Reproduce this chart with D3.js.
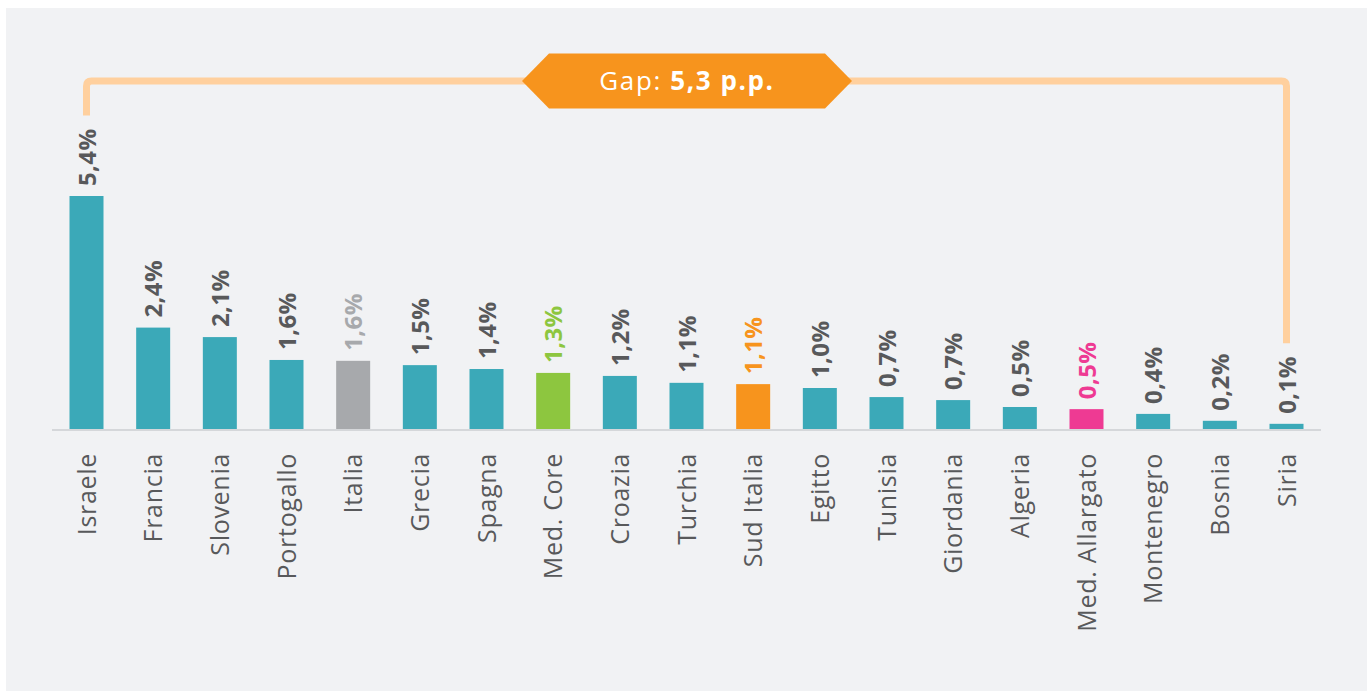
<!DOCTYPE html>
<html>
<head>
<meta charset="utf-8">
<script src="https://cdn.jsdelivr.net/npm/d3@7"></script>
<style>
  html, body { margin: 0; padding: 0; background: #ffffff; }
  svg { display: block; }
  text { font-family: "Open Sans", "Noto Sans", sans-serif; }
</style>
</head>
<body>
<svg id="chart" width="1371" height="691"></svg>
<script>
// ---- data ----
const categories = ["Israele","Francia","Slovenia","Portogallo","Italia","Grecia","Spagna","Med. Core","Croazia","Turchia","Sud Italia","Egitto","Tunisia","Giordania","Algeria","Med. Allargato","Montenegro","Bosnia","Siria"];
const values = [5.4, 2.35, 2.13, 1.6, 1.58, 1.48, 1.39, 1.3, 1.23, 1.07, 1.04, 0.95, 0.74, 0.67, 0.51, 0.46, 0.35, 0.19, 0.12];
const valueLabels = ["5,4%","2,4%","2,1%","1,6%","1,6%","1,5%","1,4%","1,3%","1,2%","1,1%","1,1%","1,0%","0,7%","0,7%","0,5%","0,5%","0,4%","0,2%","0,1%"];
const highlight = {"Italia": "italy", "Med. Core": "core", "Sud Italia": "south", "Med. Allargato": "wide"};
const gapLabel = "Gap: ";
const gapValue = "5,3 p.p.";

// ---- styles ----
const barColors = {def: "#3BA9B8", italy: "#A7A9AC", core: "#8DC63F", south: "#F7941D", wide: "#EE3A93"};
const labelColors = {def: "#58595B", italy: "#A7A9AC", core: "#8DC63F", south: "#F7941D", wide: "#EE3A93"};

const svg = d3.select("#chart");
svg.append("rect").attr("x", 6).attr("y", 8).attr("width", 1361).attr("height", 683).attr("fill", "#F1F2F4");

const baseline = 429;
const x = d3.scaleBand().domain(categories).range([52.5, 1320.5]).paddingInner(0.49).paddingOuter(0.255);
const y = d3.scaleLinear().domain([0, 5.4]).range([baseline, 196]);

const data = categories.map((c, i) => ({c, v: values[i], lab: valueLabels[i], k: highlight[c] || "def"}));

// axis line
svg.append("line").attr("x1", 52).attr("x2", 1321).attr("y1", 430).attr("y2", 430)
  .attr("stroke", "#D5D7DA").attr("stroke-width", 2);

// bars
svg.append("g").selectAll("rect").data(data).join("rect")
  .attr("x", d => x(d.c)).attr("width", x.bandwidth())
  .attr("y", d => y(d.v)).attr("height", d => baseline - y(d.v))
  .attr("fill", d => barColors[d.k]);

// value labels
const vl = svg.append("g").selectAll("text").data(data).join("text")
  .attr("transform", d => `translate(${x(d.c) + x.bandwidth()/2},${y(d.v) - 10}) rotate(-90)`)
  .attr("dy", 9)
  .attr("text-anchor", "start")
  .attr("font-size", 24).attr("font-weight", 700)
  .attr("letter-spacing", 0.4)
  .attr("fill", d => labelColors[d.k])
  .text(d => d.lab);

// category labels
svg.append("g").selectAll("text").data(data).join("text")
  .attr("transform", d => `translate(${x(d.c) + x.bandwidth()/2},453) rotate(-90)`)
  .attr("dy", 9)
  .attr("text-anchor", "end")
  .attr("font-size", 25)
  .attr("letter-spacing", 0.7)
  .attr("fill", "#58595B")
  .text(d => d.c);

// bracket
const nodes = vl.nodes();
const firstTop = y(values[0]) - 10 - nodes[0].getComputedTextLength() - 13;
const lastIdx = categories.length - 1;
const lastTop = y(values[lastIdx]) - 10 - nodes[lastIdx].getComputedTextLength() - 13;
const xl = x(categories[0]) + x.bandwidth()/2;
const xr = x(categories[lastIdx]) + x.bandwidth()/2;
const yb = 81, r = 5;
svg.append("path")
  .attr("d", `M${xl},${firstTop} L${xl},${yb + r} Q${xl},${yb} ${xl + r},${yb} L${xr - r},${yb} Q${xr},${yb} ${xr},${yb + r} L${xr},${lastTop}`)
  .attr("fill", "none").attr("stroke", "#FFD09E").attr("stroke-width", 7);

// gap banner
const cx = 687, hw = 165, hh = 27.5, notch = 27;
svg.append("path")
  .attr("d", `M${cx - hw},${yb} L${cx - hw + notch},${yb - hh} L${cx + hw - notch},${yb - hh} L${cx + hw},${yb} L${cx + hw - notch},${yb + hh} L${cx - hw + notch},${yb + hh} Z`)
  .attr("fill", "#F7941D");
const gt = svg.append("text").attr("x", cx).attr("y", 90).attr("text-anchor", "middle")
  .attr("font-size", 26).attr("letter-spacing", 1.6).attr("fill", "#ffffff");
gt.append("tspan").attr("font-weight", 400).text(gapLabel);
gt.append("tspan").attr("font-weight", 700).text(gapValue);
</script>
</body>
</html>
